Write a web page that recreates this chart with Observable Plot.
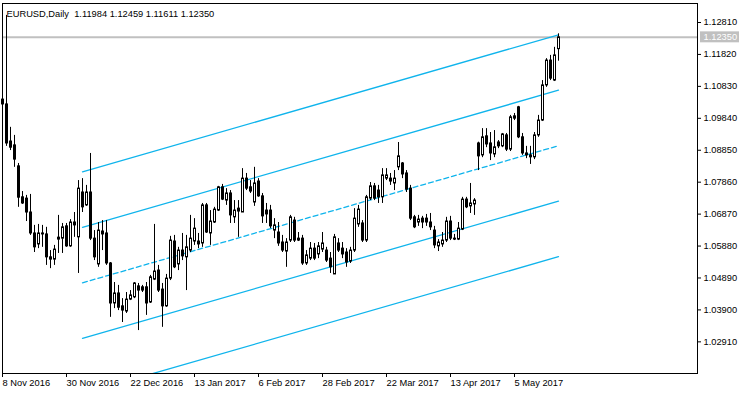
<!DOCTYPE html>
<html><head><meta charset="utf-8">
<script src="https://cdn.jsdelivr.net/npm/d3@7"></script>
<script src="https://cdn.jsdelivr.net/npm/@observablehq/plot@0.6"></script>
<style>html,body{margin:0;padding:0;background:#fff;overflow:hidden;} svg{display:block;}</style>
</head><body><div id="chart"></div>
<script>
const symbol = "EURUSD,Daily";
const opens = [1.1042,1.1027,1.0912,1.0900,1.0835,1.0739,1.0735,1.0692,1.0627,1.0593,
1.0627,1.0624,1.0553,1.0546,1.0608,1.0611,1.0649,1.0587,1.0661,1.0615,
1.0754,1.0714,1.0754,1.0611,1.0531,1.0633,1.0627,1.0534,1.0410,1.0441,
1.0401,1.0385,1.0422,1.0429,1.0463,1.0460,1.0460,1.0413,1.0484,1.0512,
1.0453,1.0401,1.0487,1.0602,1.0531,1.0574,1.0553,1.0574,1.0602,1.0602,
1.0596,1.0714,1.0627,1.0661,1.0698,1.0770,1.0729,1.0751,1.0677,1.0704,
1.0692,1.0797,1.0770,1.0723,1.0788,1.0742,1.0698,1.0698,1.0636,1.0630,
1.0599,1.0571,1.0605,1.0667,1.0611,1.0611,1.0534,1.0549,1.0580,1.0562,
1.0577,1.0574,1.0549,1.0500,1.0596,1.0580,1.0568,1.0540,1.0574,1.0655,
1.0658,1.0605,1.0735,1.0773,1.0760,1.0739,1.0797,1.0797,1.0782,1.0832,
1.0844,1.0813,1.0766,1.0677,1.0661,1.0673,1.0673,1.0661,1.0636,1.0587,
1.0593,1.0605,1.0664,1.0611,1.0608,1.0639,1.0732,1.0711,1.0717,1.0906,
1.0869,1.0928,1.0906,1.0872,1.0909,1.0897,1.0931,1.0887,1.0990,1.1018,
1.0925,1.0875,1.0869,1.0863,1.0931,1.0977,1.1086,1.1163,1.1101,1.11984];
const highs = [1.1052,1.1303,1.0956,1.0931,1.0844,1.0757,1.0745,1.0748,1.0652,1.0655,
1.0652,1.0646,1.0574,1.0590,1.0683,1.0658,1.0658,1.0670,1.0692,1.0791,
1.0797,1.0776,1.0875,1.0636,1.0661,1.0667,1.0667,1.0537,1.0475,1.0466,
1.0425,1.0444,1.0450,1.0475,1.0472,1.0466,1.0475,1.0497,1.0655,1.0528,
1.0472,1.0500,1.0618,1.0621,1.0584,1.0627,1.0621,1.0683,1.0673,1.0627,
1.0720,1.0720,1.0698,1.0708,1.0773,1.0779,1.0766,1.0760,1.0729,1.0729,
1.0828,1.0813,1.0791,1.0832,1.0797,1.0751,1.0720,1.0714,1.0673,1.0661,
1.0621,1.0611,1.0683,1.0677,1.0630,1.0621,1.0574,1.0599,1.0596,1.0599,
1.0630,1.0584,1.0568,1.0624,1.0611,1.0599,1.0580,1.0584,1.0704,1.0714,
1.0667,1.0745,1.0785,1.0782,1.0776,1.0828,1.0828,1.0813,1.0822,1.0909,
1.0847,1.0822,1.0776,1.0683,1.0683,1.0680,1.0686,1.0689,1.0649,1.0608,
1.0630,1.0677,1.0680,1.0624,1.0661,1.0739,1.0739,1.0782,1.0735,1.0910,
1.0952,1.0952,1.0940,1.0946,1.0915,1.0937,1.0937,1.0993,1.0999,1.1021,
1.0937,1.0897,1.0897,1.0940,1.0993,1.1101,1.1169,1.1179,1.1204,1.12459];
const lows = [1.1021,1.0897,1.0884,1.0832,1.0708,1.0717,1.0664,1.0621,1.0568,1.0580,
1.0584,1.0528,1.0518,1.0528,1.0565,1.0565,1.0584,1.0584,1.0615,1.0503,
1.0692,1.0711,1.0605,1.0543,1.0522,1.0574,1.0528,1.0367,1.0394,1.0388,
1.0351,1.0379,1.0419,1.0425,1.0326,1.0444,1.0373,1.0410,1.0481,1.0444,
1.0336,1.0398,1.0481,1.0518,1.0512,1.0543,1.0450,1.0568,1.0590,1.0580,
1.0584,1.0627,1.0590,1.0658,1.0695,1.0729,1.0714,1.0658,1.0658,1.0615,
1.0692,1.0760,1.0751,1.0711,1.0739,1.0658,1.0658,1.0642,1.0611,1.0587,
1.0568,1.0522,1.0599,1.0599,1.0602,1.0528,1.0528,1.0543,1.0543,1.0549,
1.0568,1.0537,1.0503,1.0503,1.0568,1.0549,1.0522,1.0534,1.0568,1.0646,
1.0599,1.0599,1.0729,1.0729,1.0720,1.0720,1.0791,1.0776,1.0760,1.0822,
1.0797,1.0754,1.0667,1.0642,1.0649,1.0642,1.0649,1.0636,1.0580,1.0571,
1.0584,1.0599,1.0605,1.0605,1.0605,1.0636,1.0704,1.0689,1.0683,1.0822,
1.0862,1.0893,1.0853,1.0862,1.0890,1.0893,1.0881,1.0881,1.0977,1.0921,
1.0869,1.0859,1.0841,1.0856,1.0925,1.0974,1.1080,1.1101,1.1098,1.11611];
const closes = [1.1027,1.0906,1.0893,1.0856,1.0738,1.0720,1.0692,1.0627,1.0584,1.0627,
1.0624,1.0553,1.0546,1.0577,1.0614,1.0646,1.0587,1.0661,1.0652,1.0766,
1.0708,1.0754,1.0611,1.0553,1.0636,1.0624,1.0534,1.0410,1.0441,1.0397,
1.0388,1.0422,1.0435,1.0472,1.0450,1.0450,1.0410,1.0491,1.0509,1.0450,
1.0401,1.0487,1.0605,1.0522,1.0574,1.0556,1.0584,1.0611,1.0642,1.0593,
1.0714,1.0630,1.0664,1.0701,1.0770,1.0732,1.0751,1.0683,1.0698,1.0695,
1.0797,1.0766,1.0757,1.0782,1.0742,1.0680,1.0686,1.0649,1.0652,1.0596,
1.0574,1.0599,1.0677,1.0605,1.0605,1.0534,1.0559,1.0580,1.0549,1.0587,
1.0596,1.0543,1.0522,1.0615,1.0574,1.0562,1.0537,1.0574,1.0673,1.0701,
1.0605,1.0739,1.0773,1.0735,1.0739,1.0807,1.0807,1.0788,1.0797,1.0866,
1.0810,1.0763,1.0673,1.0646,1.0670,1.0661,1.0661,1.0646,1.0590,1.0599,
1.0605,1.0664,1.0611,1.0608,1.0642,1.0732,1.0708,1.0720,1.0729,1.0866,
1.0925,1.0903,1.0875,1.0894,1.0897,1.0934,1.0887,1.0987,1.0983,1.0925,
1.0875,1.0869,1.0863,1.0931,1.0977,1.1086,1.1163,1.1107,1.1179,1.12350];

const tickBars = [0,16,32,48,64,80,96,112,128];
const tickLabels = ["8 Nov 2016","30 Nov 2016","22 Dec 2016","13 Jan 2017","6 Feb 2017","28 Feb 2017","22 Mar 2017","13 Apr 2017","5 May 2017"];
const priceTicks = [1.02910,1.03900,1.04890,1.05880,1.06870,1.07860,1.08850,1.09840,1.10830,1.11820,1.12810];
const channelBars = [20, 139];
const channelMid = [1.0474, 1.0899];
const channelDev = 0.0172;
const channelLevels = [2, 1, 0, -1, -2];

const bars = opens.map((o, i) => ({i, open: o, high: highs[i], low: lows[i], close: closes[i], up: closes[i] >= o}));
const last = bars[bars.length - 1];
const channel = channelLevels.flatMap(k => channelBars.map((b, j) => ({k, bar: b, price: channelMid[j] + k * channelDev})));
const header = symbol + "  " + [last.open, last.high, last.low, last.close].map(v => v.toFixed(5)).join(" ");

const xDomain = [0, 173.75];
const yDomain = [1.01929, 1.13399];
const font = "'Liberation Sans', Arial, sans-serif";
const chColor = "#0fb4ec";

const plot = Plot.plot({
  width: 750, height: 394,
  marginLeft: 2, marginRight: 53, marginTop: 3, marginBottom: 21,
  style: {fontFamily: font, fontSize: "9.3px", background: "white", color: "black", overflow: "visible"},
  x: {type: "linear", domain: xDomain, axis: null},
  y: {domain: yDomain, axis: null},
  marks: [
    Plot.ruleY([last.close], {stroke: "#c0c0c0", strokeWidth: 2}),
    Plot.line(channel.filter(d => d.k !== 0), {x: "bar", y: "price", z: "k", stroke: chColor, strokeWidth: 1.3, clip: true}),
    Plot.line(channel.filter(d => d.k === 0), {x: "bar", y: "price", stroke: chColor, strokeWidth: 1.3, strokeDasharray: "5,3", clip: true}),
    Plot.ruleX(bars, {x: "i", y1: "low", y2: "high", stroke: "black", strokeWidth: 1}),
    Plot.rect(bars, {x1: d => d.i - 0.25, x2: d => d.i + 0.25, y1: "open", y2: "close", dx: 0.5, fill: d => d.up ? "white" : "black", stroke: "black", strokeWidth: 1}),
    Plot.axisY(priceTicks, {anchor: "right", tickSize: 3, tickPadding: 3, tickFormat: d => d.toFixed(5)}),
    Plot.axisX(tickBars, {anchor: "bottom", tickSize: 4, tickPadding: 2, textAnchor: "start", tickFormat: d => tickLabels[tickBars.indexOf(d)]}),
    Plot.frame({stroke: "black"}),
    Plot.rect([last.close], {x1: xDomain[1] + 0.75, x2: xDomain[1] + 10.5, y1: d => d - 0.0017, y2: d => d + 0.0017, fill: "#c0c0c0"}),
    Plot.text([last.close], {y: d => d, frameAnchor: "right", dx: 6, textAnchor: "start", fill: "white", text: d => d.toFixed(5)}),
    Plot.text([header], {frameAnchor: "top-left", dx: 4, dy: 7, textAnchor: "start", text: d => d, fill: "black"})
  ]
});
plot.querySelectorAll("text").forEach(t => t.setAttribute("xml:space", "preserve"));
plot.style.whiteSpace = "pre";
document.getElementById("chart").appendChild(plot);
</script>
</body></html>
